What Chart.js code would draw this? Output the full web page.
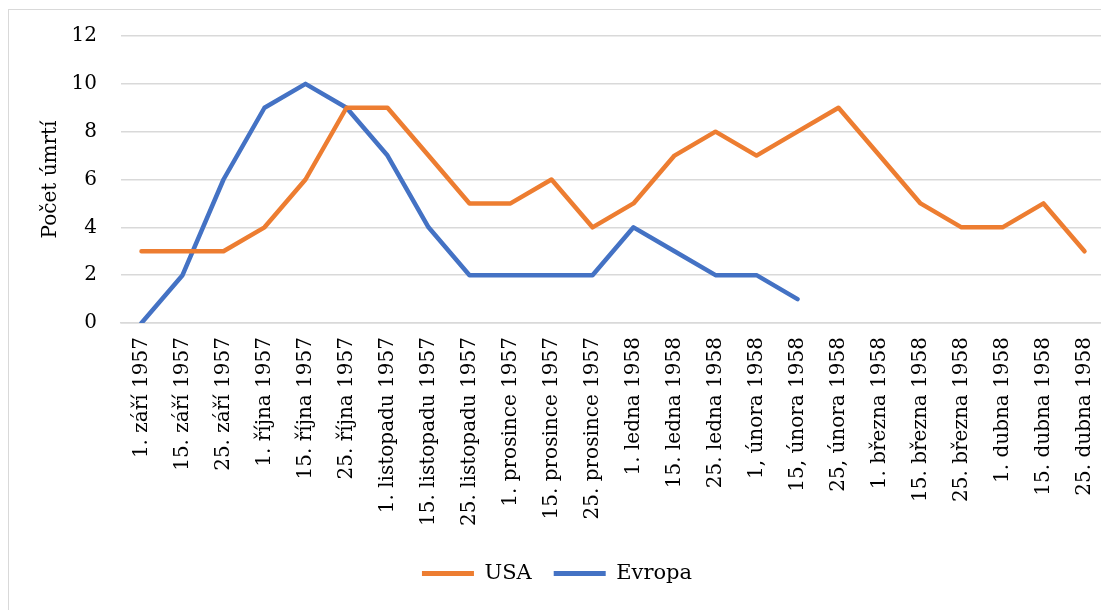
<!DOCTYPE html>
<html lang="cs">
<head>
    <meta charset="UTF-8">
    <title>Počet úmrtí - USA a Evropa</title>
    <script src="https://cdn.jsdelivr.net/npm/chart.js"></script>
    <style>
        html, body {
            margin: 0;
            padding: 0;
            background: white;
            overflow: hidden;
            width: 1101px;
            height: 610px;
        }
        .chart-box {
            position: absolute;
            left: 8px;
            top: 9px;
            width: 1102px;
            height: 615px;
            border: 1px solid #D9D9D9;
            background: white;
        }
    </style>
</head>
<body>
    <div class="chart-box">
        <canvas id="deathChart"></canvas>
    </div>

    <script>
        const categories = [
            '1. září 1957', '15. září 1957', '25. září 1957',
            '1. října 1957', '15. října 1957', '25. října 1957',
            '1. listopadu 1957', '15. listopadu 1957', '25. listopadu 1957',
            '1. prosince 1957', '15. prosince 1957', '25. prosince 1957',
            '1. ledna 1958', '15. ledna 1958', '25. ledna 1958',
            '1, února 1958', '15, února 1958', '25, února 1958',
            '1. března 1958', '15. března 1958', '25. března 1958',
            '1. dubna 1958', '15. dubna 1958', '25. dubna 1958'
        ];
        const usaValues = [3, 3, 3, 4, 6, 9, 9, 7, 5, 5, 6, 4, 5, 7, 8, 7, 8, 9, 7, 5, 4, 4, 5, 3];
        const evropaValues = [0, 2, 6, 9, 10, 9, 7, 4, 2, 2, 2, 2, 4, 3, 2, 2, 1];
        const yTicks = [0, 2, 4, 6, 8, 10, 12];

        const fontFamily = "'DejaVu Serif', serif";
        const gridColor = '#D9D9D9';

        const ctx = document.getElementById('deathChart').getContext('2d');
        new Chart(ctx, {
            type: 'line',
            data: {
                labels: categories,
                datasets: [
                    {
                        label: 'USA',
                        data: usaValues,
                        borderColor: '#ED7D31',
                        backgroundColor: '#ED7D31',
                        borderWidth: 4.5,
                        pointRadius: 0,
                        borderCapStyle: 'round',
                        borderJoinStyle: 'round'
                    },
                    {
                        label: 'Evropa',
                        data: evropaValues,
                        borderColor: '#4472C4',
                        backgroundColor: '#4472C4',
                        borderWidth: 4.5,
                        pointRadius: 0,
                        borderCapStyle: 'round',
                        borderJoinStyle: 'round'
                    }
                ]
            },
            options: {
                responsive: true,
                maintainAspectRatio: false,
                animation: false,
                layout: {
                    padding: { left: 0, right: 6, top: 26, bottom: 31 }
                },
                plugins: {
                    tooltip: { enabled: false },
                    legend: {
                        position: 'bottom',
                        labels: {
                            color: '#000',
                            font: { family: fontFamily, size: 21 },
                            boxWidth: 52,
                            boxHeight: 5,
                            padding: 22,
                            generateLabels: function(chart) {
                                return chart.data.datasets.map((ds, i) => ({
                                    text: ds.label,
                                    fillStyle: ds.borderColor,
                                    strokeStyle: ds.borderColor,
                                    lineWidth: 0,
                                    fontColor: '#000',
                                    hidden: false,
                                    datasetIndex: i
                                }));
                            }
                        }
                    }
                },
                scales: {
                    x: {
                        offset: true,
                        afterFit: function(scale) { scale.height = 218; },
                        grid: {
                            display: true,
                            drawOnChartArea: false,
                            drawTicks: true,
                            tickLength: 14,
                            color: 'transparent'
                        },
                        border: { color: gridColor, width: 1.5 },
                        ticks: {
                            autoSkip: false,
                            minRotation: 90,
                            maxRotation: 90,
                            padding: 0,
                            color: '#000',
                            font: { family: fontFamily, size: 20 }
                        }
                    },
                    y: {
                        min: 0,
                        max: 12,
                        afterFit: function(scale) { scale.width = 112; },
                        afterBuildTicks: function(scale) {
                            scale.ticks = yTicks.map(v => ({ value: v }));
                        },
                        grid: {
                            color: gridColor,
                            lineWidth: 1.5,
                            drawTicks: true,
                            tickLength: 20,
                            tickColor: 'transparent'
                        },
                        border: { display: false },
                        ticks: {
                            padding: 4,
                            color: '#000',
                            font: { family: fontFamily, size: 20 }
                        },
                        title: {
                            display: true,
                            text: 'Počet úmrtí',
                            color: '#000',
                            font: { family: fontFamily, size: 20 },
                            padding: { top: 30, bottom: 0 }
                        }
                    }
                }
            }
        });
    </script>
</body>
</html>
